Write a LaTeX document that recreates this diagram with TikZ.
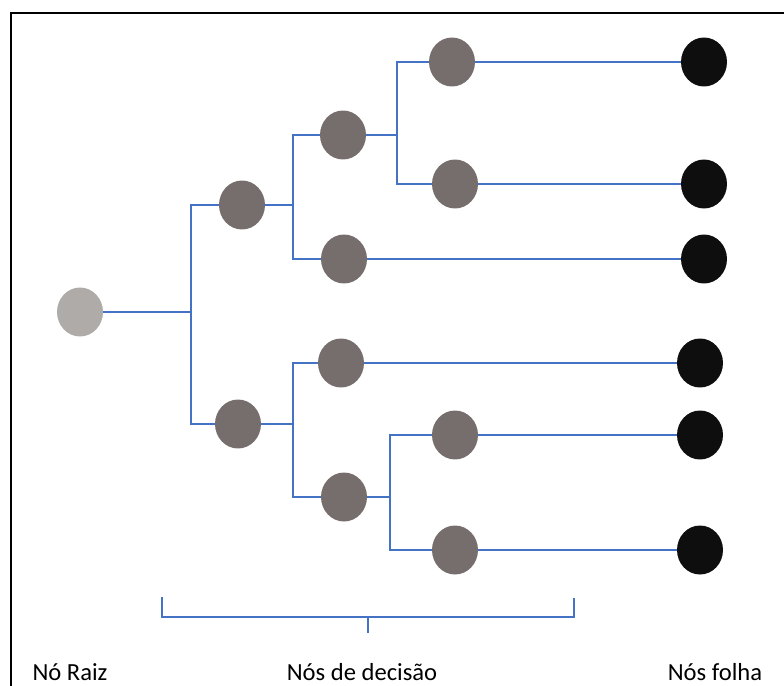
\documentclass[tikz,border=0pt]{standalone}
\usepackage{fontspec}
\setmainfont{Carlito}
\usetikzlibrary{shapes.geometric}
\definecolor{linkblue}{RGB}{68,114,196}
\definecolor{rootgray}{RGB}{175,171,168}
\definecolor{decgray}{RGB}{118,110,108}
\definecolor{leafblack}{RGB}{14,14,14}
\tikzset{
  treenode/.style={ellipse, inner sep=0pt, minimum width=0.92cm, minimum height=0.98cm},
  rootnode/.style={treenode, fill=rootgray},
  decnode/.style={treenode, fill=decgray},
  leafnode/.style={treenode, fill=leafblack},
  link/.style={linkblue, line width=0.7pt},
  caption/.style={anchor=base, font=\fontsize{14}{16}\selectfont}
}
\begin{document}
\begin{tikzpicture}[x=0.02cm, y=-0.02cm]
\useasboundingbox (0,0) rectangle (784,686);
\draw[black, line width=1.4pt] (11,686) -- (11,13) -- (784,13);
\node[rootnode] (root) at (80,312) {};
\node[decnode] (n1) at (242,205) {};
\node[decnode] (n2) at (238,424) {};
\node[decnode] (n11) at (343,135) {};
\node[decnode] (n12) at (344,259) {};
\node[decnode] (n21) at (341,363) {};
\node[decnode] (n22) at (344,497) {};
\node[decnode] (n111) at (452,62) {};
\node[decnode] (n112) at (455,184) {};
\node[decnode] (n221) at (455,435) {};
\node[decnode] (n222) at (455,550) {};
\node[leafnode] (l1) at (704,62) {};
\node[leafnode] (l2) at (704,184) {};
\node[leafnode] (l3) at (704,259) {};
\node[leafnode] (l4) at (700,363) {};
\node[leafnode] (l5) at (700,435) {};
\node[leafnode] (l6) at (700,550) {};
\coordinate (j0) at (191,312);
\coordinate (j1) at (293,205);
\coordinate (j2) at (293,424);
\coordinate (j11) at (397,135);
\coordinate (j22) at (390,497);
\draw[link] (root) -- (j0);
\draw[link] (n1) -| (j0) |- (n2);
\draw[link] (n1) -- (j1);
\draw[link] (n11) -| (j1) |- (n12);
\draw[link] (n2) -- (j2);
\draw[link] (n21) -| (j2) |- (n22);
\draw[link] (n11) -- (j11);
\draw[link] (n111) -| (j11) |- (n112);
\draw[link] (n22) -- (j22);
\draw[link] (n221) -| (j22) |- (n222);
\draw[link] (n111) -- (l1);
\draw[link] (n112) -- (l2);
\draw[link] (n12) -- (l3);
\draw[link] (n21) -- (l4);
\draw[link] (n221) -- (l5);
\draw[link] (n222) -- (l6);
\draw[link] (162,597) |- (574,617) -- (574,598);
\draw[link] (368,617) -- (368,633);
\node[caption] (rootcap) at (70,680) {Nó Raiz};
\node[caption] (deccap) at (362,680) {Nós de decisão};
\node[caption] (leafcap) at (715,680) {Nós folha};
\end{tikzpicture}
\end{document}
